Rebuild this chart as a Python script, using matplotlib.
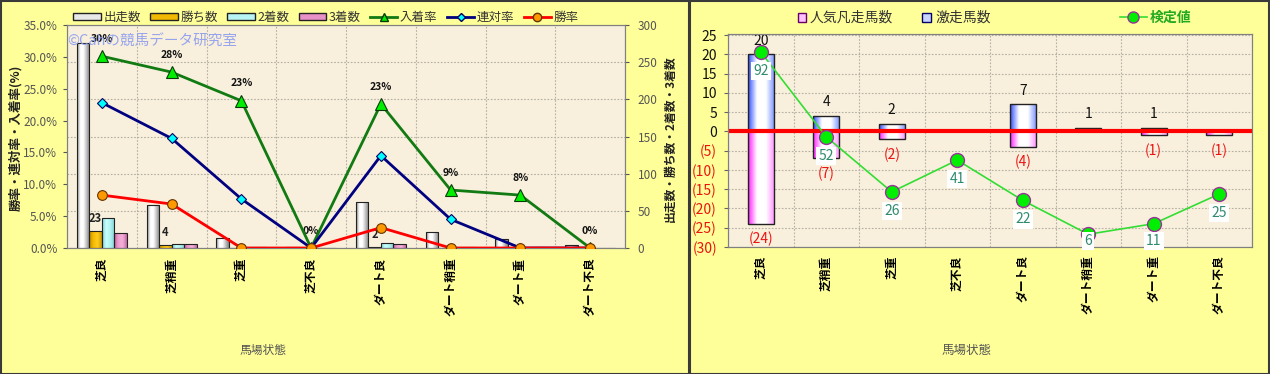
import matplotlib.pyplot as plt
import numpy as np
from matplotlib.colors import LinearSegmentedColormap
from matplotlib.lines import Line2D
from matplotlib.patches import Patch, Rectangle

plt.rcParams["font.family"] = ["Noto Sans CJK JP", "DejaVu Sans"]

W, H = 1270, 374

conditions = ["芝良", "芝稍重", "芝重", "芝不良", "ダート良", "ダート稍重", "ダート重", "ダート不良"]

# left chart: counts (right axis) and rates (left axis)
runs = [276, 58, 13, 1, 62, 22, 12, 4]
wins = [23, 4, 0, 0, 2, 0, 0, 0]
seconds = [40, 6, 1, 0, 7, 1, 0, 0]
thirds = [20, 6, 2, 0, 5, 1, 1, 0]

place_rate = [30.1, 27.6, 23.1, 0.0, 22.6, 9.1, 8.3, 0.0]
quinella_rate = [22.8, 17.2, 7.7, 0.0, 14.5, 4.5, 0.0, 0.0]
win_rate = [8.3, 6.9, 0.0, 0.0, 3.2, 0.0, 0.0, 0.0]
place_labels = ["30%", "28%", "23%", "0%", "23%", "9%", "8%", "0%"]

# right chart
upset_counts = [20, 4, 2, 0, 7, 1, 1, 0]
flop_counts = [-24, -7, -2, 0, -4, 0, -1, -1]
test_values = [92, 52, 26, 41, 22, 6, 11, 25]


def fbox(x0, y0, x1, y1):
    return [x0 / W, 1 - y1 / H, (x1 - x0) / W, (y1 - y0) / H]


def gradient_bars(ax, bars, colors):
    cmap = LinearSegmentedColormap.from_list("g", colors)
    grad = np.linspace(0, 1, 64).reshape(1, -1)
    for bar in bars:
        x, y = bar.get_xy()
        w, h = bar.get_width(), bar.get_height()
        if h == 0:
            continue
        im = ax.imshow(grad, cmap=cmap, extent=[x, x + w, y, y + h], aspect="auto",
                       zorder=bar.get_zorder() - 0.1, interpolation="bicubic")
        im.set_clip_path(bar)
        bar.set_facecolor("none")


fig = plt.figure(figsize=(W / 100, H / 100), dpi=100, facecolor="#FFFF99")

# panel frames
for x0, x1 in [(0.5, 688.5), (689.5, 1269)]:
    fig.add_artist(Rectangle((x0 / W, 0.5 / H), (x1 - x0) / W, (H - 1.5) / H,
                             transform=fig.transFigure, fill=False,
                             edgecolor="#3a3a3a", linewidth=1.5))

xs = np.arange(len(conditions))
grid_kw = dict(color="#b5b0a5", linestyle=(0, (1.5, 1.5)), linewidth=0.8)

# ---------------- left chart ----------------
ax = fig.add_axes(fbox(67, 25, 625, 248))
ax.set_facecolor("#F8F0DC")
ax.set_axisbelow(True)

bw = 0.18
bar_specs = [
    (runs, ["#808080", "#ffffff", "#ffffff", "#c0c0c0", "#808080"]),
    (wins, ["#c08a00", "#f5bb00", "#ffcc20", "#d09800"]),
    (seconds, ["#80d0d0", "#c8ffff", "#b0f0f0", "#80d0d0"]),
    (thirds, ["#c060a0", "#f0a0d0", "#f4b0d8", "#c868a8"]),
]
for i, (vals, cols) in enumerate(bar_specs):
    bars = ax.bar(xs + (i - 1.5) * bw, vals, bw, edgecolor="#222222", linewidth=0.8, zorder=3)
    gradient_bars(ax, bars, cols)

for x, v in zip(xs, wins):
    if v > 0:
        ax.annotate(str(v), (x - 0.5 * bw, v), xytext=(0, 9), textcoords="offset points",
                    ha="center", va="center", fontsize=8, fontweight="bold", color="#222222")

ax.set_xlim(-0.5, 7.5)
ax.set_ylim(0, 300)
ax.set_yticks(np.arange(0, 301, 50))
ax.set_xticks(xs)
ax.set_xticklabels(conditions, rotation=90, fontsize=8.5, fontweight="bold")
ax.tick_params(axis="x", length=0, pad=7)
ax.set_xticks(np.arange(-0.5, 8, 1), minor=True)
ax.tick_params(axis="x", which="minor", length=0)
ax.grid(axis="x", which="minor", **grid_kw)
ax.grid(axis="y", which="major", **grid_kw)

ax_pct = ax.twinx()
ax.yaxis.tick_right()
ax.tick_params(axis="y", labelsize=8.5, labelcolor="#555555", length=3, pad=6, colors="#555555")
ax_pct.yaxis.tick_left()
ax_pct.plot(xs, place_rate, color="#127a12", lw=2, marker="^", ms=8,
            mfc="#00ee00", mec="#0a3a0a", mew=0.8, zorder=5)
ax_pct.plot(xs, quinella_rate, color="#000080", lw=2, marker="D", ms=5.5,
            mfc="#00ffff", mec="#000060", mew=0.8, zorder=5)
ax_pct.plot(xs, win_rate, color="#ff0000", lw=2, marker="o", ms=7,
            mfc="#ff9900", mec="#663300", mew=0.8, zorder=5)
for x, v, lab in zip(xs, place_rate, place_labels):
    ax_pct.annotate(lab, (x, v), xytext=(0, 12.5), textcoords="offset points",
                    ha="center", va="center", fontsize=7.5, fontweight="bold", color="#111111")
ax_pct.set_ylim(0, 35)
ax_pct.set_yticks(np.arange(0, 36, 5))
ax_pct.set_yticklabels([f"{t:.1f}%" for t in np.arange(0, 36, 5)])
ax_pct.tick_params(axis="y", labelsize=8.5, labelcolor="#555555", length=3, pad=4, colors="#555555")
for a in (ax, ax_pct):
    for s in a.spines.values():
        s.set_color("#808080")

fig.text(67 / W, 1 - 42 / H, "©Cahの競馬データ研究室", fontsize=10.5, color="#8c9cf0",
         va="center", ha="left", alpha=0.9, zorder=10)
fig.text(16 / W, 1 - 138 / H, "勝率・連対率・入着率(%)", rotation=90, ha="center", va="center",
         fontsize=9, fontweight="bold", color="#222222")
fig.text(670 / W, 1 - 139 / H, "出走数・勝ち数・2着数・3着数", rotation=90, ha="center", va="center",
         fontsize=8.5, fontweight="bold", color="#222222")
fig.text(263 / W, 1 - 350 / H, "馬場状態", ha="center", va="center", fontsize=8.5, color="#555555")

left_handles = [
    Patch(facecolor="#e8e8e8", edgecolor="#222222"),
    Patch(facecolor="#f0b800", edgecolor="#222222"),
    Patch(facecolor="#b8f4f4", edgecolor="#222222"),
    Patch(facecolor="#e890c8", edgecolor="#222222"),
    Line2D([], [], color="#127a12", lw=2, marker="^", ms=6, mfc="#00ee00", mec="#0a3a0a"),
    Line2D([], [], color="#000080", lw=2, marker="D", ms=4.5, mfc="#00ffff", mec="#000060"),
    Line2D([], [], color="#ff0000", lw=2, marker="o", ms=6, mfc="#ff9900", mec="#663300"),
]
fig.legend(left_handles, ["出走数", "勝ち数", "2着数", "3着数", "入着率", "連対率", "勝率"],
           loc="center", bbox_to_anchor=(326 / W, 1 - 17 / H), ncol=7, frameon=False,
           fontsize=9, handlelength=2.2, handleheight=0.5, handletextpad=0.2,
           columnspacing=0.75, borderaxespad=0, labelcolor="#333333")

# ---------------- right chart ----------------
ax2 = fig.add_axes(fbox(728, 34, 1252, 247))
ax2.set_facecolor("#F8F0DC")
ax2.set_axisbelow(True)

pos_bars = ax2.bar(xs, upset_counts, 0.4, edgecolor="#222222", linewidth=1.0, zorder=3)
gradient_bars(ax2, pos_bars, ["#3050ff", "#ffffff", "#ffffff", "#7890ff"])
neg_bars = ax2.bar(xs, flop_counts, 0.4, edgecolor="#222222", linewidth=1.0, zorder=3)
gradient_bars(ax2, neg_bars, ["#ff20ff", "#ffffff", "#ffffff", "#ff90ff"])
ax2.axhline(0, color="#ff0000", lw=3, zorder=4)

for x, v in zip(xs, upset_counts):
    if v > 0:
        ax2.annotate(str(v), (x, v), xytext=(0, 10), textcoords="offset points",
                     ha="center", va="center", fontsize=10, color="#111111")
for x, v in zip(xs, flop_counts):
    if v < 0:
        ax2.annotate(f"({-v})", (x, v), xytext=(0, -11), textcoords="offset points",
                     ha="center", va="center", fontsize=10, color="#ee1111")

ax2.set_xlim(-0.5, 7.5)
ax2.set_ylim(-30, 25.3)
yt = np.arange(-30, 26, 5)
ax2.set_yticks(yt)
ax2.set_yticklabels([str(t) if t >= 0 else f"({-t})" for t in yt])
for lab, t in zip(ax2.get_yticklabels(), yt):
    lab.set_color("#111111" if t >= 0 else "#ee1111")
ax2.tick_params(axis="y", labelsize=10, length=3, pad=5, color="#666666")
ax2.set_xticks(xs)
ax2.set_xticklabels(conditions, rotation=90, fontsize=8.5, fontweight="bold")
ax2.tick_params(axis="x", length=0, pad=6)
ax2.set_xticks(np.arange(-0.5, 8, 1), minor=True)
ax2.tick_params(axis="x", which="minor", length=0)
ax2.grid(axis="x", which="minor", **grid_kw)
ax2.grid(axis="y", which="major", **grid_kw)

ax2t = ax2.twinx()
ax2t.plot(xs, test_values, color="#33dd33", lw=1.2, marker="o", ms=10,
          mfc="#00ee00", mec="#993399", mew=1, zorder=5)
for x, v in zip(xs, test_values):
    ax2t.text(x, max(v - 9, 3), str(v), ha="center", va="center", fontsize=10,
              color="#2e8b6e", bbox=dict(facecolor="white", edgecolor="none", pad=1.5), zorder=6)
ax2t.set_ylim(0, 100.5)
ax2t.set_yticks([])
for a in (ax2, ax2t):
    for s in a.spines.values():
        s.set_color("#808080")

fig.text(967 / W, 1 - 350 / H, "馬場状態", ha="center", va="center", fontsize=9, color="#555555")

fig.legend([Patch(facecolor="#ffc0ff", edgecolor="#660066"), Patch(facecolor="#c8d4ff", edgecolor="#000066")],
           ["人気凡走馬数", "激走馬数"], loc="center left", bbox_to_anchor=(792 / W, 1 - 18 / H),
           ncol=2, frameon=False, fontsize=10, handlelength=0.6, handleheight=0.6,
           handletextpad=0.3, columnspacing=2.1, borderaxespad=0, labelcolor="#333333")
fig.legend([Line2D([], [], color="#33dd33", lw=1.2, marker="o", ms=8, mfc="#00ee00", mec="#993399")],
           ["検定値"], loc="center left", bbox_to_anchor=(1114 / W, 1 - 18 / H), frameon=False,
           fontsize=10, handlelength=2.0, handletextpad=0.2, borderaxespad=0,
           labelcolor="#22aa22", prop={"weight": "bold", "size": 10})

fig.savefig("out.png", dpi=100, facecolor=fig.get_facecolor())
